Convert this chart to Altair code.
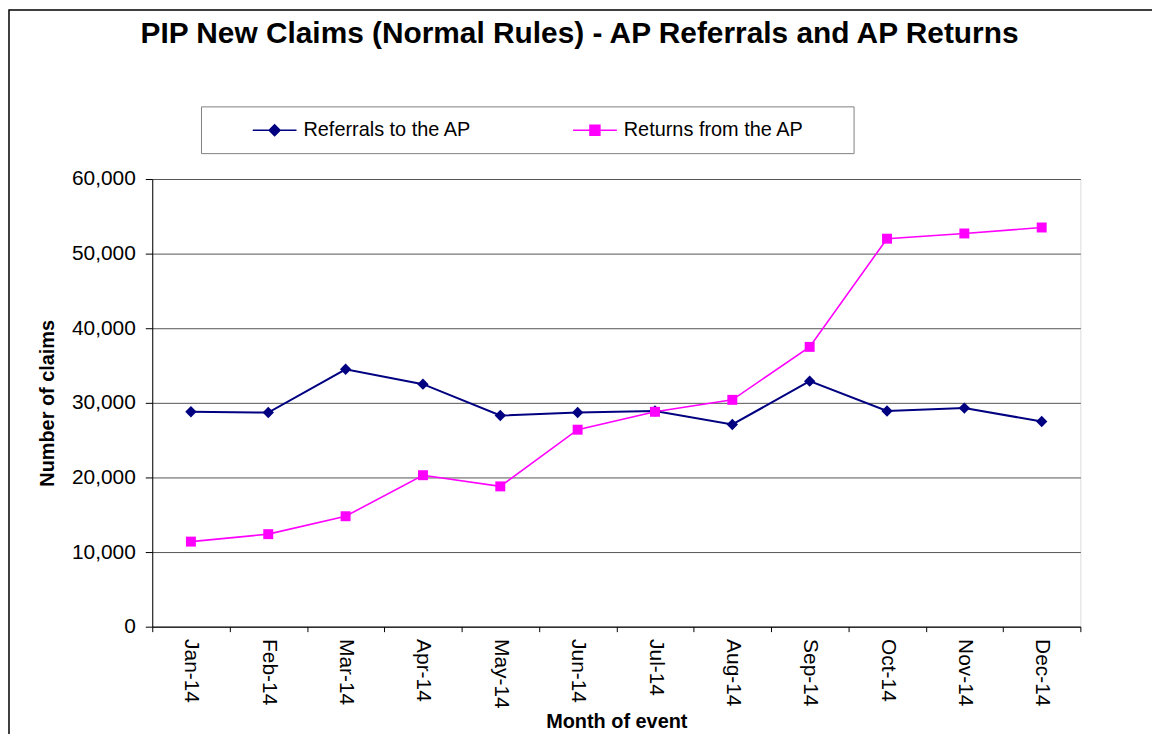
import altair as alt
import pandas as pd

months = ["Jan-14", "Feb-14", "Mar-14", "Apr-14", "May-14", "Jun-14",
          "Jul-14", "Aug-14", "Sep-14", "Oct-14", "Nov-14", "Dec-14"]
referrals = [28800, 28700, 34500, 32500, 28300, 28700, 28900, 27100, 32900, 28900, 29300, 27500]
returns = [11400, 12400, 14800, 20300, 18800, 26400, 28800, 30400, 37500, 52000, 52700, 53500]
series_names = ["Referrals to the AP", "Returns from the AP"]
y_ticks = [0, 10000, 20000, 30000, 40000, 50000, 60000]

NAVY = "#000080"
MAGENTA = "#FF00FF"
FONT = "Liberation Sans"

df = pd.DataFrame({
    "month": months * 2,
    "series": [series_names[0]] * 12 + [series_names[1]] * 12,
    "value": referrals + returns,
})

x_enc = alt.X("month:N", sort=months, bandPosition=0.5,
              scale=alt.Scale(type="band", paddingInner=0, paddingOuter=0),
              axis=alt.Axis(title="Month of event", labelAngle=90, labelAlign="left",
                            labelBaseline="middle", labelFontSize=21, labelFont=FONT,
                            labelColor="black", labelPadding=7, tickBand="extent",
                            tickSize=5, tickColor="black", domainColor="black",
                            titleFontSize=20, titleFont=FONT, titleFontWeight="bold",
                            titleColor="black", titlePadding=3, grid=False))
y_enc = alt.Y("value:Q", scale=alt.Scale(domain=[0, 60000], nice=False),
              axis=alt.Axis(title="Number of claims", values=y_ticks, format=",d",
                            labelFontSize=21, labelFont=FONT, labelColor="black",
                            labelPadding=10, tickSize=7, tickColor="black",
                            domainColor="black", gridColor="#555555", gridWidth=1,
                            titleFontSize=20, titleFont=FONT, titleFontWeight="bold",
                            titleColor="black", titlePadding=14))

base = alt.Chart(df)

frame = alt.Chart(pd.DataFrame({"k": [0]})).mark_rect(
    fillOpacity=0, stroke="black", strokeWidth=1.5
).encode(x=alt.value(-144), x2=alt.value(1010), y=alt.value(-170), y2=alt.value(800))

line_ref = base.transform_filter(alt.datum.series == series_names[0]).mark_line(
    color=NAVY, strokeWidth=2).encode(x=x_enc, y=y_enc)
line_ret = base.transform_filter(alt.datum.series == series_names[1]).mark_line(
    color=MAGENTA, strokeWidth=1.6).encode(x=x_enc, y=y_enc)
pt_ref = base.transform_filter(alt.datum.series == series_names[0]).mark_point(
    shape="diamond", filled=True, color=NAVY, size=130, opacity=1).encode(x=x_enc, y=y_enc)
pt_ret = base.transform_filter(alt.datum.series == series_names[1]).mark_point(
    shape="square", filled=True, color=MAGENTA, size=100, opacity=1).encode(x=x_enc, y=y_enc)

path_ref = "M-2.2,0L2.2,0M0,-0.55L0.55,0L0,0.55L-0.55,0Z"
path_ret = "M-2.2,0L2.2,0M-0.5,-0.5L0.5,-0.5L0.5,0.5L-0.5,0.5ZM24.4,0"

leg = alt.Legend(orient="none", legendX=49, legendY=-73, direction="horizontal",
                 title=None, fillColor="white", strokeColor="#808080", padding=13,
                 symbolSize=400, symbolStrokeWidth=1.5, symbolOffset=50, labelOffset=18,
                 labelFontSize=20, labelFont=FONT, labelColor="black", labelLimit=400,
                 columnPadding=63)

legend_layer = base.transform_filter("false").mark_point(filled=True, opacity=1).encode(
    x=x_enc, y=y_enc,
    fill=alt.Fill("series:N", scale=alt.Scale(domain=series_names, range=[NAVY, MAGENTA]), legend=leg),
    stroke=alt.Stroke("series:N", scale=alt.Scale(domain=series_names, range=[NAVY, MAGENTA]), legend=leg),
    shape=alt.Shape("series:N", scale=alt.Scale(domain=series_names, range=[path_ref, path_ret]), legend=leg),
)

chart = alt.layer(frame, line_ref, line_ret, pt_ref, pt_ret, legend_layer).properties(
    width=933, height=450,
    padding={"left": 145, "top": 170, "right": 72, "bottom": 106},
    autosize="none",
    title=alt.TitleParams("PIP New Claims (Normal Rules) - AP Referrals and AP Returns",
                          anchor="middle", frame="group", dx=-37, offset=-40,
                          fontSize=30, font=FONT, fontWeight="bold", color="black"),
).configure_view(stroke="#808080", strokeWidth=1.5).configure(background="white")

chart.save("out.html", embed_options={"renderer": "svg", "actions": False})
